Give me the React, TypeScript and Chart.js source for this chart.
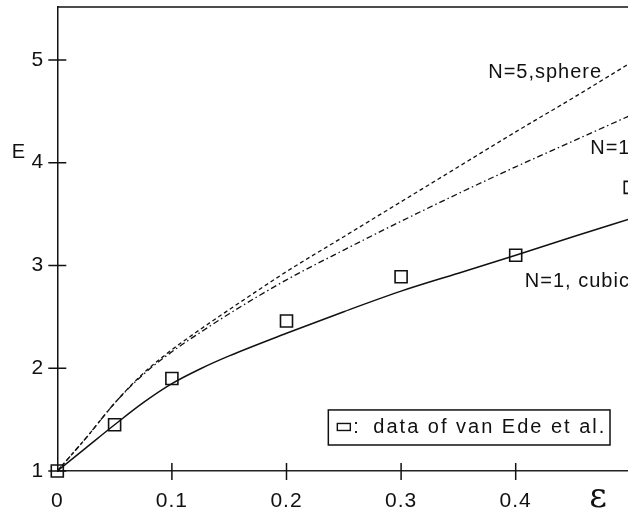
import React, { useEffect, useRef } from "react";
import { Chart, registerables } from "chart.js";

Chart.register(...registerables);

// Strain grid for the model curves
const strain = [0, 0.025, 0.05, 0.075, 0.1, 0.125, 0.15, 0.2, 0.25, 0.3, 0.35, 0.4, 0.45, 0.5];
// Model predictions of E
const sphereN5 = [1, 1.32, 1.66, 1.95, 2.18, 2.38, 2.57, 2.94, 3.28, 3.62, 3.96, 4.3, 4.63, 4.97];
const sphereN1 = [1, 1.32, 1.66, 1.94, 2.16, 2.35, 2.53, 2.86, 3.15, 3.43, 3.7, 3.96, 4.21, 4.46];
const cubicN1 = [1, 1.225, 1.45, 1.665, 1.85, 1.995, 2.12, 2.34, 2.55, 2.75, 2.925, 3.1, 3.28, 3.455];
// Measured points
const dataStrain = [0, 0.05, 0.1, 0.2, 0.3, 0.4, 0.5];
const dataE = [1.0, 1.45, 1.9, 2.46, 2.89, 3.1, 3.76];

const xTicks = [0, 0.1, 0.2, 0.3, 0.4];
const yTicks = [1, 2, 3, 4, 5];

const curveLabels = [
  { text: "N=5,sphere", x: 0.376, y: 4.88 },
  { text: "N=1", x: 0.465, y: 4.14 },
  { text: "N=1, cubic", x: 0.408, y: 2.84 },
];
const legendText = "data of van Ede et al.";

const FONT = '"Liberation Sans", Arial, sans-serif';
const INK = "#111";

const pairs = (xs: number[], ys: number[]) => xs.map((x, i) => ({ x, y: ys[i] }));

const decorations = {
  id: "decorations",
  beforeLayout(chart: any) {
    chart.ctx.letterSpacing = "1px";
  },
  beforeDraw(chart: any) {
    chart.ctx.letterSpacing = "1px";
    const { ctx, width, height } = chart;
    ctx.save();
    ctx.fillStyle = "#fff";
    ctx.fillRect(0, 0, width, height);
    ctx.restore();
  },
  afterDraw(chart: any) {
    const { ctx, chartArea: a, scales } = chart;
    const xs = scales.x;
    const ys = scales.y;
    ctx.save();
    ctx.strokeStyle = INK;
    ctx.lineWidth = 1.5;

    // top frame line
    ctx.beginPath();
    ctx.moveTo(a.left, a.top);
    ctx.lineTo(a.right, a.top);
    ctx.stroke();

    // tick marks crossing the axes
    ctx.beginPath();
    yTicks.forEach((v) => {
      const py = ys.getPixelForValue(v);
      ctx.moveTo(a.left - 9, py);
      ctx.lineTo(a.left + 9, py);
    });
    xTicks.slice(1).forEach((v) => {
      const px = xs.getPixelForValue(v);
      ctx.moveTo(px, a.bottom - 8);
      ctx.lineTo(px, a.bottom + 9);
    });
    ctx.stroke();

    // axis titles
    ctx.fillStyle = INK;
    ctx.letterSpacing = "0px";
    ctx.textAlign = "center";
    ctx.textBaseline = "middle";
    ctx.font = `20px ${FONT}`;
    ctx.fillText("E", a.left - 39, ys.getPixelForValue(4.1));
    ctx.font = `34px "DejaVu Serif", serif`;
    ctx.fillText("ε", xs.getPixelForValue(0.4718), a.bottom + 27);

    // curve labels
    ctx.letterSpacing = "1px";
    ctx.font = `20px ${FONT}`;
    ctx.textAlign = "left";
    curveLabels.forEach((l) => {
      ctx.fillText(l.text, xs.getPixelForValue(l.x), ys.getPixelForValue(l.y));
    });

    // legend box
    const bx0 = xs.getPixelForValue(0.2365);
    const bx1 = xs.getPixelForValue(0.4823);
    const by0 = ys.getPixelForValue(1.594);
    const by1 = ys.getPixelForValue(1.253);
    ctx.lineWidth = 1.5;
    ctx.strokeRect(bx0, by0, bx1 - bx0, by1 - by0);
    const my = (by0 + by1) / 2;
    ctx.lineWidth = 1.4;
    ctx.strokeRect(bx0 + 9, my - 4, 13, 7);
    ctx.fillText(":", bx0 + 25, my);
    ctx.letterSpacing = "2px";
    ctx.fillText(legendText, bx0 + 45, my);
    ctx.restore();
  },
};

export default function App() {
  const canvasRef = useRef<HTMLCanvasElement | null>(null);

  useEffect(() => {
    if (!canvasRef.current) return;
    Chart.defaults.font.family = FONT;
    const chart = new Chart(canvasRef.current, {
      type: "line",
      data: {
        datasets: [
          {
            label: "N=5, sphere",
            data: pairs(strain, sphereN5),
            borderColor: INK,
            borderWidth: 1.3,
            borderDash: [4, 3],
            pointRadius: 0,
            cubicInterpolationMode: "monotone",
          },
          {
            label: "N=1",
            data: pairs(strain, sphereN1),
            borderColor: INK,
            borderWidth: 1.3,
            borderDash: [6, 3, 1.5, 3],
            pointRadius: 0,
            cubicInterpolationMode: "monotone",
          },
          {
            label: "N=1, cubic",
            data: pairs(strain, cubicN1),
            borderColor: INK,
            borderWidth: 1.5,
            pointRadius: 0,
            cubicInterpolationMode: "monotone",
          },
          {
            label: "data of van Ede et al.",
            data: pairs(dataStrain, dataE),
            showLine: false,
            clip: false,
            pointStyle: "rect",
            pointRadius: 8.5,
            pointBorderWidth: 1.6,
            pointBorderColor: INK,
            pointBackgroundColor: "rgba(0,0,0,0)",
          },
        ],
      },
      options: {
        animation: false,
        responsive: true,
        maintainAspectRatio: false,
        events: [],
        layout: { autoPadding: false, padding: { top: 7, right: 0, left: 0, bottom: 0 } },
        plugins: { legend: { display: false }, tooltip: { enabled: false } },
        scales: {
          x: {
            type: "linear",
            min: 0,
            max: 0.498,
            afterFit: (s: any) => {
              s.height = 42;
              s.paddingLeft = 0;
              s.paddingRight = 0;
            },
            grid: { display: false, drawTicks: false },
            border: { display: true, color: "#222", width: 1.5 },
            ticks: {
              stepSize: 0.1,
              includeBounds: false,
              padding: 18,
              color: INK,
              font: { size: 21, family: FONT },
              maxRotation: 0,
              callback: (v: any) => (xTicks.includes(Number(v)) ? String(Number(v)) : ""),
            },
          },
          y: {
            type: "linear",
            min: 1,
            max: 5.515,
            afterFit: (s: any) => {
              s.width = 57.3;
              s.paddingTop = 0;
              s.paddingBottom = 0;
            },
            grid: { display: false, drawTicks: false },
            border: { display: true, color: INK, width: 1.5 },
            ticks: {
              stepSize: 1,
              includeBounds: false,
              padding: 13,
              color: INK,
              font: { size: 21, family: FONT },
              callback: (v: any) => (yTicks.includes(Number(v)) ? String(v) : ""),
            },
          },
        },
      },
      plugins: [decorations],
    } as any);
    return () => chart.destroy();
  }, []);

  return (
    <div style={{ position: "fixed", left: 0, top: 0, width: 628, height: 513, background: "#fff" }}>
      <canvas ref={canvasRef} />
    </div>
  );
}
